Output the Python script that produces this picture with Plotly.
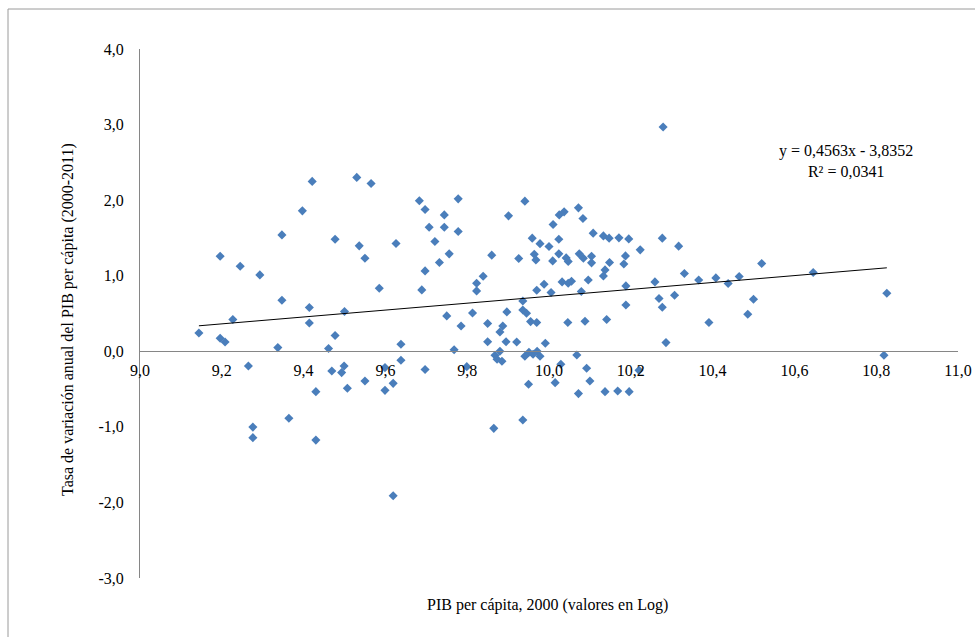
import plotly.graph_objects as go

# PIB per cápita 2000 (log) and annual growth rate 2000-2011
pib_log = [
    9.144, 9.196, 9.196, 9.208, 9.227, 9.245, 9.265, 9.276, 9.276, 9.293,
    9.337, 9.347, 9.347, 9.364, 9.397, 9.414, 9.414, 9.421, 9.430, 9.430,
    9.461, 9.469, 9.477, 9.477,
    9.493, 9.499, 9.500, 9.507, 9.530, 9.536, 9.550, 9.550, 9.565, 9.585,
    9.599, 9.599, 9.619, 9.619, 9.626, 9.638, 9.638,
    9.683, 9.689, 9.697, 9.697, 9.697, 9.707, 9.721, 9.732, 9.744, 9.744,
    9.750, 9.756, 9.768, 9.778, 9.778, 9.785, 9.799, 9.813, 9.823, 9.823,
    9.839, 9.850, 9.850, 9.860, 9.865, 9.868, 9.880, 9.873, 9.885, 9.880,
    9.887, 9.897, 9.895, 9.901, 9.921, 9.926, 9.936, 9.936, 9.936, 9.941,
    9.945, 9.941, 9.951, 9.961, 9.971, 9.978, 9.950, 9.955, 9.959, 9.964,
    9.968, 9.970, 9.970,
    9.978, 9.988, 9.991, 10.000, 10.005, 10.009, 10.010, 10.015, 10.024, 10.024,
    10.025, 10.029, 10.032, 10.037, 10.042, 10.046, 10.047, 10.047, 10.055, 10.068,
    10.072, 10.072, 10.074, 10.079, 10.083, 10.084, 10.088, 10.092, 10.096, 10.100,
    10.104, 10.104, 10.108,
    10.133, 10.133, 10.137, 10.137, 10.141, 10.147, 10.148, 10.168, 10.171, 10.183,
    10.187, 10.188, 10.188, 10.195, 10.196, 10.220, 10.223, 10.259, 10.269, 10.277,
    10.277, 10.279, 10.286, 10.307, 10.317, 10.331, 10.366,
    10.391, 10.408, 10.438, 10.465, 10.486, 10.500, 10.520, 10.646, 10.826, 10.819,
]
tasa_var = [
    0.242, 1.258, 0.172, 0.123, 0.420, 1.126, -0.195, -1.003, -1.143, 1.011,
    0.049, 1.540, 0.675, -0.887, 1.858, 0.579, 0.375, 2.248, -0.534, -1.175,
    0.036, -0.261, 1.483, 0.208,
    -0.282, -0.195, 0.526, -0.490, 2.301, 1.395, 1.232, -0.393, 2.221, 0.834,
    -0.216, -0.517, -0.424, -1.911, 1.426, 0.093, -0.119,
    1.991, 0.812, 1.877, 1.064, -0.242, 1.642, 1.453, 1.175, 1.805, 1.642,
    0.468, 1.289, 0.020, 2.017, 1.585, 0.335, -0.203, 0.507, 0.901, 0.799,
    0.993, 0.367, 0.126, 1.272, -1.020, -0.053, 0.000, -0.106, -0.132, 0.256,
    0.335, 0.521, 0.126, 1.792, 0.122, 1.228, 0.666, 0.547, -0.910, 1.987,
    0.503, -0.066, -0.013, -0.040, 0.000, -0.066, -0.437, 0.393, 1.497, 1.285,
    1.209, 0.808, 0.380,
    1.424, 0.887, 0.106, 1.387, 0.777, 1.196, 1.678, -0.415, 1.483, 1.289,
    1.805, -0.172, 0.918, 1.845, 1.236, 0.380, 1.188, 0.901, 0.927, -0.049,
    1.898, -0.560, 1.289, 0.791, 1.758, 1.232, 0.397, -0.225, 0.944, -0.393,
    1.258, 1.170, 1.563,
    1.527, 0.997, 1.077, -0.534, 0.420, 1.497, 1.175, -0.526, 1.501, 1.156,
    1.262, 0.865, 0.613, 1.487, -0.534, -0.252, 1.342, 0.918, 0.698, 1.497,
    0.583, 2.967, 0.115, 0.742, 1.391, 1.029, 0.944,
    0.380, 0.971, 0.897, 0.989, 0.490, 0.689, 1.162, 1.042, 0.768, -0.053,
]

# Trendline as displayed on chart
slope = 0.4563
intercept = -3.8352
eq_text = "y = 0,4563x - 3,8352<br>R² = 0,0341"

x_tickvals = [9.0, 9.2, 9.4, 9.6, 9.8, 10.0, 10.2, 10.4, 10.6, 10.8, 11.0]
x_ticktext = ["9,0", "9,2", "9,4", "9,6", "9,8", "10,0", "10,2", "10,4", "10,6", "10,8", "11,0"]
y_tickvals = [-3, -2, -1, 0, 1, 2, 3, 4]
y_ticktext = ["-3,0", "-2,0", "-1,0", "0,0", "1,0", "2,0", "3,0", "4,0"]

x_title = "PIB per cápita, 2000 (valores en Log)"
y_title = "Tasa de variación anual del PIB per cápita (2000-2011)"

FONT = "Liberation Serif, Times New Roman, serif"
FS = 16
AXIS_COLOR = "#868686"

xmin, xmax = min(pib_log), max(pib_log)
trend_x = [xmin, xmax]
trend_y = [slope * v + intercept for v in trend_x]

fig = go.Figure()
fig.add_trace(go.Scatter(
    x=pib_log, y=tasa_var, mode="markers",
    marker=dict(symbol="diamond", size=7, color="#4A7EBB", line=dict(width=0)),
    showlegend=False, hoverinfo="x+y",
))
fig.add_trace(go.Scatter(
    x=trend_x, y=trend_y, mode="lines",
    line=dict(color="black", width=1),
    showlegend=False, hoverinfo="skip",
))

fig.update_layout(
    width=975, height=637,
    margin=dict(l=140, r=17, t=49, b=59, autoexpand=False),
    paper_bgcolor="white", plot_bgcolor="white",
    font=dict(family=FONT, size=FS, color="black"),
    xaxis=dict(
        range=[9.0, 11.0], tickvals=x_tickvals, ticktext=x_ticktext,
        showgrid=False, zeroline=False, showline=True, linecolor=AXIS_COLOR,
        linewidth=1, anchor="free", position=3 / 7, automargin=False,
        ticks="outside", ticklen=5, tickcolor="rgba(0,0,0,0)",
        tickfont=dict(family=FONT, size=FS, color="black"),
    ),
    yaxis=dict(
        range=[-3.0, 4.0], tickvals=y_tickvals, ticktext=y_ticktext,
        showgrid=False, zeroline=False, showline=True, linecolor=AXIS_COLOR,
        linewidth=1, ticks="outside", ticklen=12, tickcolor="rgba(0,0,0,0)",
        automargin=False,
        tickfont=dict(family=FONT, size=FS, color="black"),
    ),
    shapes=[dict(
        type="rect", xref="paper", yref="paper",
        x0=(8 - 140) / 818, x1=(990 - 140) / 818,
        y0=(578 - 650) / 529, y1=(578 - 9) / 529,
        line=dict(color="#9A9A9A", width=1), fillcolor="rgba(0,0,0,0)",
        layer="below",
    )],
    annotations=[
        dict(text=eq_text, x=10.726, y=2.52, xref="x", yref="y",
             showarrow=False, align="center",
             font=dict(family=FONT, size=FS, color="black")),
        dict(text=x_title, x=(547 - 140) / 818, y=(578 - 605) / 529,
             xref="paper", yref="paper", showarrow=False,
             xanchor="center", yanchor="middle",
             font=dict(family=FONT, size=FS, color="black")),
        dict(text=y_title, x=(68 - 140) / 818, y=(578 - 320) / 529,
             xref="paper", yref="paper", showarrow=False, textangle=-90,
             xanchor="center", yanchor="middle",
             font=dict(family=FONT, size=FS, color="black")),
    ],
)

fig.write_html("out.html")
